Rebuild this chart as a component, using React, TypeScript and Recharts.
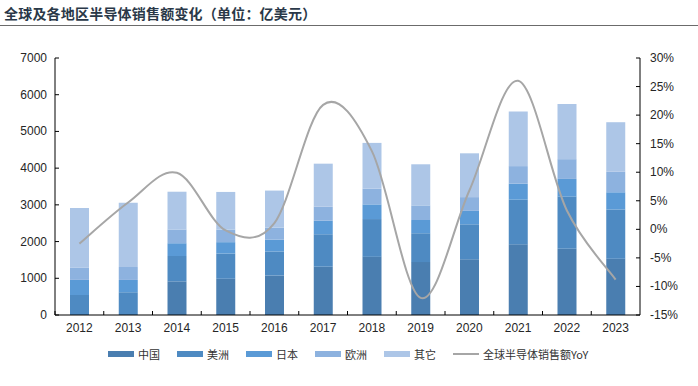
import React from 'react';
import { ComposedChart, Bar, Line, XAxis, YAxis } from 'recharts';

// 全球及各地区半导体销售额（亿美元）与同比
const YEARS = ['2012', '2013', '2014', '2015', '2016', '2017', '2018', '2019', '2020', '2021', '2022', '2023'];
const CHINA = [0, 0, 917, 986, 1076, 1315, 1584, 1441, 1517, 1925, 1804, 1531];
const AMERICAS = [545, 620, 690, 687, 655, 885, 1029, 786, 954, 1215, 1421, 1344];
const JAPAN = [411, 335, 348, 311, 323, 366, 400, 360, 365, 437, 481, 468];
const EUROPE = [333, 352, 374, 343, 327, 383, 430, 398, 375, 478, 539, 558];
const OTHER = [1627, 1750, 1029, 1025, 1008, 1173, 1245, 1120, 1193, 1490, 1500, 1350];
const YOY = [-2.5, 4.7, 9.9, -0.2, 1.1, 21.8, 13.7, -12.0, 6.8, 26.0, 3.3, -8.8];

const LEFT_TICKS = [0, 1000, 2000, 3000, 4000, 5000, 6000, 7000];
const RIGHT_TICKS = [-15, -10, -5, 0, 5, 10, 15, 20, 25, 30];

const SERIES = [
  { key: 'china', name: '中国', color: '#4a7eb0' },
  { key: 'americas', name: '美洲', color: '#4e8ac2' },
  { key: 'japan', name: '日本', color: '#5a9ad6' },
  { key: 'europe', name: '欧洲', color: '#8db2df' },
  { key: 'other', name: '其它', color: '#adc6e7' },
];
const LINE_NAME = '全球半导体销售额YoY';
const LINE_COLOR = '#a6a6a6';

const data = YEARS.map((year, i) => ({
  year,
  china: CHINA[i],
  americas: AMERICAS[i],
  japan: JAPAN[i],
  europe: EUROPE[i],
  other: OTHER[i],
  yoy: YOY[i],
}));

const W = 698;
const H = 386;
const LEFT_W = 55;
const RIGHT_W = 58;
const PLOT_W = W - LEFT_W - RIGHT_W;
const BAND = PLOT_W / YEARS.length;
const GAP = 8;
const AXIS_FONT = '"Liberation Sans", Arial, sans-serif';
const CJK_FONT = '"Noto Sans CJK SC", "Noto Sans", sans-serif';

// Excel-like smoothed line (Catmull-Rom)
const smooth = (context: any) => {
  let pts: number[][] = [];
  return {
    areaStart() {},
    areaEnd() {},
    lineStart() {
      pts = [];
    },
    lineEnd() {
      if (!pts.length) return;
      context.moveTo(pts[0][0], pts[0][1]);
      for (let i = 0; i < pts.length - 1; i++) {
        const p0 = pts[Math.max(i - 1, 0)];
        const p1 = pts[i];
        const p2 = pts[i + 1];
        const p3 = pts[Math.min(i + 2, pts.length - 1)];
        context.bezierCurveTo(
          p1[0] + (p2[0] - p0[0]) / 6,
          p1[1] + (p2[1] - p0[1]) / 6,
          p2[0] - (p3[0] - p1[0]) / 6,
          p2[1] - (p3[1] - p1[1]) / 6,
          p2[0],
          p2[1]
        );
      }
    },
    point(x: number, y: number) {
      pts.push([+x, +y]);
    },
  };
};

const LeftTick = (props: any) => {
  const { x, y, payload } = props;
  const ax = x + GAP;
  return (
    <g>
      <line x1={ax} x2={ax + 4} y1={y} y2={y} stroke="#000" />
      <text x={x} y={y} dy={4} textAnchor="end" fontSize={12} fill="#262626" fontFamily={AXIS_FONT}>
        {payload.value}
      </text>
    </g>
  );
};

const RightTick = (props: any) => {
  const { x, y, payload } = props;
  const ax = x - GAP - 2;
  return (
    <g>
      <line x1={ax} x2={ax - 4} y1={y} y2={y} stroke="#000" />
      <text x={x} y={y} dy={4} textAnchor="start" fontSize={12} fill="#262626" fontFamily={AXIS_FONT}>
        {`${payload.value}%`}
      </text>
    </g>
  );
};

const BottomTick = (props: any) => {
  const { x, y, payload } = props;
  const ay = y - 6;
  return (
    <g>
      <line x1={x - BAND / 2} x2={x - BAND / 2} y1={ay} y2={ay - 4} stroke="#000" />
      <text x={x} y={y} dy={11} textAnchor="middle" fontSize={12} fill="#262626" fontFamily={AXIS_FONT}>
        {payload.value}
      </text>
    </g>
  );
};

const LegendRow = () => (
  <div
    style={{
      position: 'absolute',
      left: 108,
      top: 346,
      display: 'flex',
      alignItems: 'center',
      fontFamily: CJK_FONT,
      fontSize: 11,
      color: '#333',
    }}
  >
    {SERIES.map((s) => (
      <div key={s.key} style={{ display: 'flex', alignItems: 'center', marginRight: 17 }}>
        <span style={{ width: 26, height: 6, background: s.color, marginRight: 4 }} />
        <span>{s.name}</span>
      </div>
    ))}
    <div style={{ display: 'flex', alignItems: 'center' }}>
      <span style={{ width: 26, height: 2, background: LINE_COLOR, marginRight: 4 }} />
      <span>{LINE_NAME}</span>
    </div>
  </div>
);

export default function App() {
  return (
    <div style={{ position: 'absolute', left: 0, top: 0, width: W, height: H, background: '#fff' }}>
      <div
        style={{
          position: 'absolute',
          left: 4,
          top: 3,
          fontFamily: CJK_FONT,
          fontSize: 14,
          fontWeight: 600,
          color: '#2a3848',
          lineHeight: '20px',
          letterSpacing: 0.2,
        }}
      >
        全球及各地区半导体销售额变化（单位：亿美元）
      </div>
      <div style={{ position: 'absolute', left: 0, top: 25, width: W, height: 1, background: '#6b6b6b' }} />
      <div style={{ position: 'absolute', left: 0, top: 0 }}>
        <ComposedChart width={W} height={H} data={data} margin={{ top: 58, right: 0, bottom: 41, left: 0 }}>
          <XAxis
            dataKey="year"
            tickLine={false}
            tickSize={0}
            tickMargin={6}
            height={30}
            stroke="#000"
            tick={BottomTick}
            interval={0}
          />
          <YAxis
            yAxisId="left"
            domain={[0, 7000]}
            ticks={LEFT_TICKS}
            width={LEFT_W}
            tickLine={false}
            tickSize={0}
            tickMargin={GAP}
            stroke="#000"
            tick={LeftTick}
            interval={0}
          />
          <YAxis
            yAxisId="right"
            orientation="right"
            domain={[-15, 30]}
            ticks={RIGHT_TICKS}
            width={RIGHT_W}
            tickLine={false}
            tickSize={0}
            tickMargin={GAP + 2}
            stroke="#000"
            tick={RightTick}
            interval={0}
          />
          {SERIES.map((s) => (
            <Bar
              key={s.key}
              yAxisId="left"
              dataKey={s.key}
              name={s.name}
              stackId="total"
              fill={s.color}
              barSize={19}
              isAnimationActive={false}
            />
          ))}
          <Line
            yAxisId="right"
            dataKey="yoy"
            name={LINE_NAME}
            type={smooth as any}
            stroke={LINE_COLOR}
            strokeWidth={2}
            dot={false}
            isAnimationActive={false}
          />
        </ComposedChart>
      </div>
      <LegendRow />
    </div>
  );
}
